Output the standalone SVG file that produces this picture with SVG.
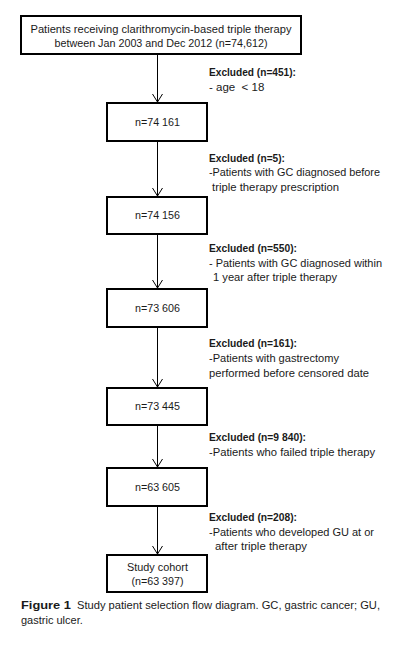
<svg xmlns="http://www.w3.org/2000/svg" width="400" height="652" viewBox="0 0 400 652">
<defs>
<style>
.box{fill:#fff;stroke:#000;stroke-width:2}
.t{font-family:"Liberation Sans",Arial,sans-serif;font-size:11.5px;fill:#1a1a1a}
.c{text-anchor:middle}
.b{font-weight:bold}
.cap{font-family:"Liberation Sans",Arial,sans-serif;font-size:11px;fill:#1a1a1a}
.ln{stroke:#000;stroke-width:1;fill:none}
</style>
<marker id="ah" markerWidth="12" markerHeight="12" refX="9" refY="6" orient="auto" markerUnits="userSpaceOnUse" viewBox="0 0 12 12">
<path d="M1,1 L9,6 L1,11" fill="none" stroke="#000" stroke-width="1"/>
</marker>
</defs>
<rect width="400" height="652" fill="#fff"/>
<g id="connectors">
<line class="ln" x1="157.5" y1="54" x2="157.5" y2="102" marker-end="url(#ah)"/>
<line class="ln" x1="157.5" y1="141" x2="157.5" y2="196" marker-end="url(#ah)"/>
<line class="ln" x1="157.5" y1="234" x2="157.5" y2="288" marker-end="url(#ah)"/>
<line class="ln" x1="157.5" y1="327" x2="157.5" y2="387" marker-end="url(#ah)"/>
<line class="ln" x1="157.5" y1="425" x2="157.5" y2="467" marker-end="url(#ah)"/>
<line class="ln" x1="157.5" y1="506" x2="157.5" y2="554" marker-end="url(#ah)"/>
</g>
<g id="n0">
<rect class="box" x="21" y="16" width="280" height="38"/>
<text class="t c" x="161" y="33" textLength="261" lengthAdjust="spacingAndGlyphs">Patients receiving clarithromycin-based triple therapy</text>
<text class="t c" x="161" y="47" textLength="213" lengthAdjust="spacingAndGlyphs">between Jan 2003 and Dec 2012 (n=74,612)</text>
</g>
<g id="n1">
<rect class="box" x="107" y="103" width="100" height="38"/>
<text class="t c" x="157.5" y="126" textLength="45" lengthAdjust="spacingAndGlyphs">n=74 161</text>
</g>
<g id="n2">
<rect class="box" x="107" y="197" width="100" height="37"/>
<text class="t c" x="157.5" y="219" textLength="45" lengthAdjust="spacingAndGlyphs">n=74 156</text>
</g>
<g id="n3">
<rect class="box" x="107" y="289" width="100" height="38"/>
<text class="t c" x="157.5" y="312" textLength="45" lengthAdjust="spacingAndGlyphs">n=73 606</text>
</g>
<g id="n4">
<rect class="box" x="107" y="388" width="100" height="37"/>
<text class="t c" x="157.5" y="410" textLength="45" lengthAdjust="spacingAndGlyphs">n=73 445</text>
</g>
<g id="n5">
<rect class="box" x="107" y="468" width="100" height="38"/>
<text class="t c" x="157.5" y="491" textLength="45" lengthAdjust="spacingAndGlyphs">n=63 605</text>
</g>
<g id="n6">
<rect class="box" x="107" y="555" width="100" height="37"/>
<text class="t c" x="157.5" y="571" textLength="61" lengthAdjust="spacingAndGlyphs">Study cohort</text>
<text class="t c" x="157.5" y="585" textLength="52" lengthAdjust="spacingAndGlyphs">(n=63 397)</text>
</g>
<g id="x1">
<text class="t b" x="209" y="76" textLength="87" lengthAdjust="spacingAndGlyphs">Excluded (n=451):</text>
<text class="t" x="209" y="91" xml:space="preserve">- age  &lt; 18</text>
</g>
<g id="x2">
<text class="t b" x="209" y="162" textLength="76" lengthAdjust="spacingAndGlyphs">Excluded (n=5):</text>
<text class="t" x="209" y="176" textLength="171" lengthAdjust="spacingAndGlyphs">-Patients with GC diagnosed before</text>
<text class="t" x="212" y="191" textLength="127" lengthAdjust="spacingAndGlyphs">triple therapy prescription</text>
</g>
<g id="x3">
<text class="t b" x="209" y="252" textLength="88" lengthAdjust="spacingAndGlyphs">Excluded (n=550):</text>
<text class="t" x="209" y="267" textLength="173" lengthAdjust="spacingAndGlyphs">- Patients with GC diagnosed within</text>
<text class="t" x="213" y="281" textLength="124" lengthAdjust="spacingAndGlyphs">1 year after triple therapy</text>
</g>
<g id="x4">
<text class="t b" x="209" y="347" textLength="88" lengthAdjust="spacingAndGlyphs">Excluded (n=161):</text>
<text class="t" x="209" y="362" textLength="130" lengthAdjust="spacingAndGlyphs">-Patients with gastrectomy</text>
<text class="t" x="209" y="377" textLength="160" lengthAdjust="spacingAndGlyphs">performed before censored date</text>
</g>
<g id="x5">
<text class="t b" x="209" y="441" textLength="97" lengthAdjust="spacingAndGlyphs">Excluded (n=9 840):</text>
<text class="t" x="209" y="456" textLength="166" lengthAdjust="spacingAndGlyphs">-Patients who failed triple therapy</text>
</g>
<g id="x6">
<text class="t b" x="209" y="521" textLength="88" lengthAdjust="spacingAndGlyphs">Excluded (n=208):</text>
<text class="t" x="209" y="536" textLength="165" lengthAdjust="spacingAndGlyphs">-Patients who developed GU at or</text>
<text class="t" x="215" y="550" textLength="92" lengthAdjust="spacingAndGlyphs">after triple therapy</text>
</g>
<g id="caption">
<text class="cap b" x="21" y="609" textLength="50" lengthAdjust="spacingAndGlyphs">Figure 1</text>
<text class="cap" x="77" y="609" textLength="303" lengthAdjust="spacingAndGlyphs">Study patient selection flow diagram. GC, gastric cancer; GU,</text>
<text class="cap" x="21" y="624">gastric ulcer.</text>
</g>
</svg>
